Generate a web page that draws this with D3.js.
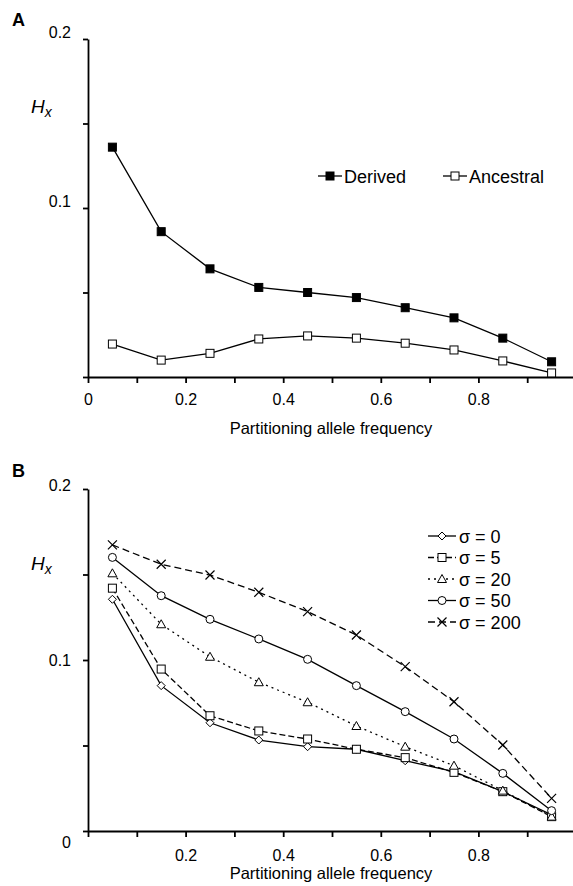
<!DOCTYPE html>
<html>
<head>
<script src="https://cdn.jsdelivr.net/npm/d3@7"></script>
<style>
  body { margin: 0; background: #fff; }
  svg { font-family: "Liberation Sans", Arial, sans-serif; }
</style>
</head>
<body>
<script>
// x positions (partitioning allele frequency bins)
var freq = [0.05, 0.15, 0.25, 0.35, 0.45, 0.55, 0.65, 0.75, 0.85, 0.95];

// panel A
var derived   = [0.136, 0.086, 0.064, 0.053, 0.050, 0.047, 0.041, 0.035, 0.023, 0.009];
var ancestral = [0.0195, 0.010, 0.014, 0.0225, 0.0243, 0.023, 0.020, 0.016, 0.0095, 0.0024];

// panel B
var sigmaLabels = ["σ = 0", "σ = 5", "σ = 20", "σ = 50", "σ = 200"];
var sigma0   = [0.1355, 0.085, 0.0633, 0.0532, 0.0493, 0.0478, 0.0411, 0.0347, 0.023, 0.0094];
var sigma5   = [0.142, 0.0947, 0.0674, 0.0585, 0.0538, 0.0478, 0.0429, 0.0343, 0.023, 0.0084];
var sigma20  = [0.1507, 0.1209, 0.1019, 0.087, 0.0753, 0.0614, 0.0493, 0.0382, 0.0236, 0.0084];
var sigma50  = [0.160, 0.1376, 0.1238, 0.1123, 0.1004, 0.085, 0.0698, 0.0538, 0.0337, 0.0119];
var sigma200 = [0.1673, 0.156, 0.1497, 0.1396, 0.1283, 0.1146, 0.0961, 0.0756, 0.0503, 0.0191];

var xTicks = [0, 0.1, 0.2, 0.3, 0.4, 0.5, 0.6, 0.7, 0.8, 0.9];
var yTicks = [0, 0.05, 0.1, 0.15, 0.2];

var svg = d3.select("body").append("svg")
    .attr("width", 573)
    .attr("height", 886);

var x = d3.scaleLinear().domain([0, 1]).range([88, 576]);
var yA = d3.scaleLinear().domain([0, 0.2]).range([377, 39]);
var yB = d3.scaleLinear().domain([0, 0.2]).range([831, 489]);

var fmt = d3.format(".2~f");

function draw_axes(y, xLabels, yLabels, xPad, yShift) {
    var xa = svg.append("g")
        .attr("transform", "translate(0," + y(0) + ")")
        .call(d3.axisBottom(x).tickValues(xTicks).tickSize(6).tickSizeOuter(0).tickPadding(xPad)
            .tickFormat(function (d) {
                var s = fmt(d);
                return xLabels.indexOf(s) >= 0 ? s : "";
            }));
    var ya = svg.append("g")
        .attr("transform", "translate(" + x(0) + ",0)")
        .call(d3.axisLeft(y).tickValues(yTicks).tickSize(5).tickSizeOuter(0).tickPadding(12)
            .tickFormat(function (d) {
                var s = fmt(d);
                return yLabels.indexOf(s) >= 0 ? s : "";
            }));
    [xa, ya].forEach(function (g) {
        g.selectAll("path, line").attr("stroke", "#000").attr("stroke-width", 1.8);
        g.selectAll("text").attr("fill", "#000").style("font-size", "16px");
    });
    ya.selectAll(".tick text").attr("dy", function (d) { return yShift(d); });
}

function draw_title(letter, ty, hy, labelY) {
    svg.append("text").attr("x", 12).attr("y", ty)
        .style("font-size", "18px").style("font-weight", "bold").text(letter);
    var h = svg.append("text").attr("x", 31).attr("y", hy)
        .style("font-size", "19px").style("font-style", "italic");
    h.append("tspan").text("H");
    h.append("tspan").attr("dy", 4).style("font-size", "14px").text("x");
    svg.append("text").attr("x", 331).attr("y", labelY)
        .attr("text-anchor", "middle").style("font-size", "16.5px")
        .text("Partitioning allele frequency");
}

function draw_marker(g, shape, cx, cy, fill) {
    if (shape == "square") {
        g.append("rect").attr("x", cx - 4).attr("y", cy - 4).attr("width", 8).attr("height", 8)
            .attr("fill", fill).attr("stroke", "#000").attr("stroke-width", 1);
    } else if (shape == "diamond") {
        g.append("path").attr("d", "M" + cx + "," + (cy - 4) + "L" + (cx + 4) + "," + cy + "L" + cx + "," + (cy + 4) + "L" + (cx - 4) + "," + cy + "Z")
            .attr("fill", fill).attr("stroke", "#000").attr("stroke-width", 1);
    } else if (shape == "circle") {
        g.append("circle").attr("cx", cx).attr("cy", cy).attr("r", 4)
            .attr("fill", fill).attr("stroke", "#000").attr("stroke-width", 1);
    } else if (shape == "triangle") {
        g.append("path").attr("d", "M" + cx + "," + (cy - 4.5) + "L" + (cx + 4.5) + "," + (cy + 3.5) + "L" + (cx - 4.5) + "," + (cy + 3.5) + "Z")
            .attr("fill", fill).attr("stroke", "#000").attr("stroke-width", 1);
    } else if (shape == "cross") {
        g.append("path").attr("d", "M" + (cx - 4.5) + "," + (cy - 4.5) + "L" + (cx + 4.5) + "," + (cy + 4.5) + "M" + (cx + 4.5) + "," + (cy - 4.5) + "L" + (cx - 4.5) + "," + (cy + 4.5))
            .attr("fill", "none").attr("stroke", "#000").attr("stroke-width", 1.2);
    }
}

function draw_series(y, values, shape, fill, dash) {
    var g = svg.append("g");
    var line = d3.line()
        .x(function (d, i) { return x(freq[i]); })
        .y(function (d) { return y(d); });
    g.append("path").datum(values).attr("d", line)
        .attr("fill", "none").attr("stroke", "#000").attr("stroke-width", 1.3)
        .attr("stroke-dasharray", dash);
    values.forEach(function (d, i) {
        draw_marker(g, shape, x(freq[i]), y(d), fill);
    });
}

// ---- panel A ----
draw_axes(yA, ["0", "0.2", "0.4", "0.6", "0.8"], ["0.1", "0.2"], 11, function () { return "-0.1em"; });
draw_title("A", 26, 113, 434);
draw_series(yA, derived, "square", "#000", null);
draw_series(yA, ancestral, "square", "#fff", null);

var legA = svg.append("g");
[["Derived", "#000", 318, 344], ["Ancestral", "#fff", 443, 469]].forEach(function (e) {
    legA.append("line").attr("x1", e[2]).attr("x2", e[3] - 2).attr("y1", 176).attr("y2", 176)
        .attr("stroke", "#000").attr("stroke-width", 1.3);
    draw_marker(legA, "square", (e[2] + e[3] - 2) / 2, 176, e[1]);
    legA.append("text").attr("x", e[3]).attr("y", 182.5).style("font-size", "18px").text(e[0]);
});

// ---- panel B ----
draw_axes(yB, ["0.2", "0.4", "0.6", "0.8"], ["0", "0.1", "0.2"], 13, function (d) {
    if (d == 0) return "1.05em";
    if (d == 0.2) return "0.08em";
    return "0.32em";
});
draw_title("B", 477, 570, 879);

var seriesB = [sigma0, sigma5, sigma20, sigma50, sigma200];
var shapesB = ["diamond", "square", "triangle", "circle", "cross"];
var dashB = [null, "6,3", "2,4", null, "7,4"];
seriesB.forEach(function (s, i) {
    draw_series(yB, s, shapesB[i], "#fff", dashB[i]);
});

var legB = svg.append("g");
sigmaLabels.forEach(function (lab, i) {
    var cy = 536 + i * 21.5;
    legB.append("line").attr("x1", 428).attr("x2", 456).attr("y1", cy).attr("y2", cy)
        .attr("stroke", "#000").attr("stroke-width", 1.3).attr("stroke-dasharray", dashB[i]);
    draw_marker(legB, shapesB[i], 442, cy, "#fff");
    legB.append("text").attr("x", 459).attr("y", cy + 6.5).style("font-size", "18px").text(lab);
});
</script>
</body>
</html>
